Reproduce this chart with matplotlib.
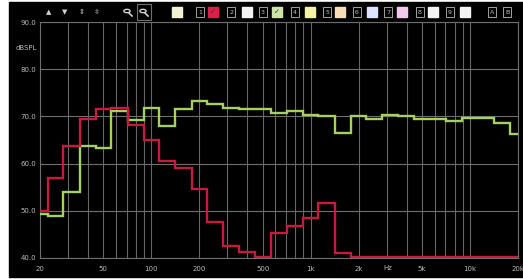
import numpy as np
import matplotlib
matplotlib.use("Agg")
import matplotlib.pyplot as plt
from matplotlib.patches import Rectangle, Circle
from matplotlib.lines import Line2D
from matplotlib.ticker import LogLocator, FixedLocator, NullFormatter

# 1/3-octave band centres (Hz)
bands = [20, 25, 31.5, 40, 50, 63, 80, 100, 125, 160, 200, 250, 315, 400, 500,
         630, 800, 1000, 1250, 1600, 2000, 2500, 3150, 4000, 5000, 6300, 8000,
         10000, 12500, 16000, 20000]

# band levels (dB SPL)
red_db = [50.0, 57.0, 63.7, 69.5, 71.5, 71.8, 68.2, 65.0, 60.5, 59.0, 54.6,
          47.7, 42.6, 41.3, 40.2, 45.2, 46.7, 48.4, 51.6, 41.0, 40.3, 40.3,
          40.3, 40.3, 40.3, 40.3, 40.3, 40.3, 40.3, 40.3, 40.3]
green_db = [49.3, 48.8, 53.9, 63.7, 63.2, 71.1, 69.3, 71.8, 68.0, 71.6, 73.2,
            72.6, 71.8, 71.5, 71.5, 70.8, 71.1, 70.4, 70.1, 66.5, 70.1, 69.5,
            70.4, 70.1, 69.5, 69.5, 69.0, 69.7, 69.7, 68.7, 66.3]

y_ticks = [40, 50, 60, 70, 80, 90]
x_ticks = [20, 50, 100, 200, 500, 1000, 2000, 5000, 10000, 20000]
x_labels = ["20", "50", "100", "200", "500", "1k", "2k", "5k", "10k", "20k"]

W, H = 523, 279
fig = plt.figure(figsize=(W / 100, H / 100), dpi=100, facecolor="white")


def fx(px):
    return px / W


def fy(py):
    return 1 - py / H


# black panel of the analyser window
fig.patches.append(Rectangle((fx(9), fy(277)), fx(W - 9), (277 - 2) / H,
                             transform=fig.transFigure, color="black", zorder=-10))

ax = fig.add_axes([fx(40), fy(258), fx(518 - 40), (258 - 22) / H])
ax.set_facecolor("black")
ax.set_xscale("log")
ax.set_xlim(20, 20000)
ax.set_ylim(40, 90)

c = np.array(bands, dtype=float)
edges = np.concatenate([[c[0] / 10 ** 0.05], np.sqrt(c[:-1] * c[1:]), [c[-1] * 10 ** 0.05]])
ax.stairs(green_db, edges, color="#a6d062", lw=1.7, baseline=None, zorder=3)
ax.stairs(red_db, edges, color="#c81a40", lw=1.7, baseline=None, zorder=4)

ax.xaxis.set_major_locator(FixedLocator(x_ticks))
ax.xaxis.set_minor_locator(LogLocator(base=10, subs=np.arange(2, 10)))
ax.xaxis.set_minor_formatter(NullFormatter())
ax.set_xticks(x_ticks)
ax.set_xticklabels(x_labels)
ax.set_yticks(y_ticks)
ax.set_yticklabels(["%.1f" % v for v in y_ticks])
ax.grid(True, which="both", axis="x", color="#666666", lw=0.8)
ax.grid(True, which="major", axis="y", color="#6e6e6e", lw=0.8)
ax.tick_params(which="both", length=0, colors="#b8b8b8", labelsize=5)
ax.tick_params(axis="x", pad=6)
ax.tick_params(axis="y", pad=3)
for s in ax.spines.values():
    s.set_color("#6e6e6e")
    s.set_linewidth(0.8)

fig.text(fx(37), fy(48), "dBSPL", color="#b8b8b8", fontsize=5, ha="right", va="center")
fig.text(fx(388), fy(268), "Hz", color="#b8b8b8", fontsize=5, ha="center", va="center")

# toolbar
ty = 12
for px, s in [(49, "▲"), (65, "▼"), (82, "⇕"), (97, "⇳")]:
    fig.text(fx(px), fy(ty), s, color="#d0d0d0", fontsize=5, ha="center", va="center")
for px, boxed in [(128, False), (144, True)]:
    if boxed:
        fig.patches.append(Rectangle((fx(px - 7), fy(ty + 8)), fx(14), 16 / H,
                                     transform=fig.transFigure, fill=False,
                                     ec="#707070", lw=0.8))
    fig.patches.append(Circle((fx(px - 1), fy(ty - 1)), 0.006, transform=fig.transFigure,
                              fill=False, ec="#d0d0d0", lw=1))
    fig.lines.append(Line2D([fx(px + 1), fx(px + 4)], [fy(ty + 1), fy(ty + 4)],
                            transform=fig.transFigure, color="#d0d0d0", lw=1.2))

squares = [(177, "#f2f2d2"), (213, "#d8204a"), (247, "#f4f4f4"), (277, "#cfe4a8"),
           (310, "#f4f2a8"), (340, "#f8dcb8"), (372, "#dce2ff"), (402, "#f2c8ee"),
           (433, "#f4f4f4"), (465, "#f4f4f4")]
for px, col in squares:
    fig.patches.append(Rectangle((fx(px - 5), fy(ty + 5)), fx(10), 10 / H,
                                 transform=fig.transFigure, color=col))
for px in (213, 277):
    fig.text(fx(px), fy(ty), "✓", color="#303030", fontsize=5, ha="center", va="center")

numbers = [(200, "1"), (231, "2"), (263, "3"), (295, "4"), (327, "5"), (357, "6"),
           (388, "7"), (420, "8"), (450, "9"), (492, "A"), (507, "B")]
for px, s in numbers:
    fig.patches.append(Rectangle((fx(px - 4), fy(ty + 5)), fx(8), 10 / H,
                                 transform=fig.transFigure, fill=False,
                                 ec="#a0a0a0", lw=0.7))
    fig.text(fx(px), fy(ty), s, color="#c0c0c0", fontsize=4.5, ha="center", va="center")

fig.savefig("out.png", dpi=100, facecolor="white")
